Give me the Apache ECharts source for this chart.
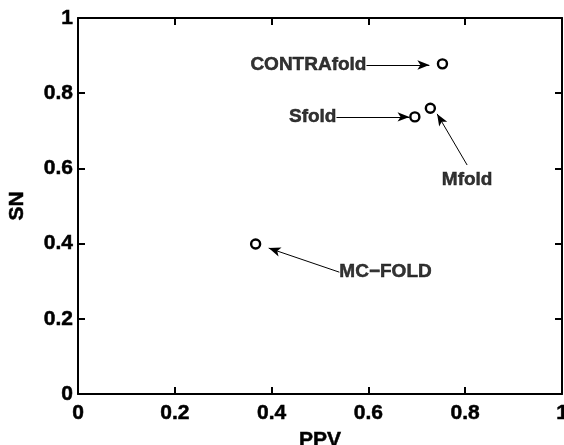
<!DOCTYPE html>
<html>
<head>
<meta charset="utf-8">
<script src="https://cdn.jsdelivr.net/npm/echarts@6/dist/echarts.min.js"></script>
<style>
  html, body { margin: 0; padding: 0; background: #fff; }
  #chart { width: 564px; height: 445px; }
</style>
</head>
<body>
<div id="chart"></div>
<script>
// methods and their (PPV, SN) values
var methods = ["CONTRAfold", "Sfold", "Mfold", "MC\u2212FOLD"];
var ppv = [0.753, 0.696, 0.728, 0.367];
var sn = [0.878, 0.737, 0.76, 0.399];

// annotation arrows: start (at the text) -> end (near the point), in data units
var arrowFrom = [[0.596, 0.875], [0.534, 0.737], [0.804, 0.609], [0.54, 0.324]];
var arrowTo = [[0.726, 0.875], [0.685, 0.737], [0.742, 0.745], [0.394, 0.388]];
var labelPos = ["left", "left", "bottom", "right"];

var ticks = [0, 0.2, 0.4, 0.6, 0.8, 1];

var font = "Liberation Sans, Arial, Helvetica, sans-serif";
// a thin stroke makes the bold text look as heavy as the original
var heavy = { textBorderColor: "#000", textBorderWidth: 0.5 };

var myChart = echarts.init(document.getElementById("chart"));

var points = methods.map(function (m, i) {
  return [ppv[i], sn[i]];
});

var arrows = methods.map(function (m, i) {
  return [
    { coord: arrowFrom[i], symbol: "none" },
    { coord: arrowTo[i], symbol: "arrow" }
  ];
});

var texts = methods.map(function (m, i) {
  return {
    value: arrowFrom[i],
    label: { position: labelPos[i], distance: labelPos[i] == "bottom" ? 5 : 0 }
  };
});

function axisBase(pos) {
  return {
    type: "value",
    position: pos,
    min: ticks[0],
    max: ticks[ticks.length - 1],
    interval: 0.2,
    splitLine: { show: false },
    axisLine: { show: true, onZero: false, lineStyle: { color: "#000", width: 2 } },
    axisTick: { show: true, inside: true, length: 7, lineStyle: { color: "#000", width: 2 } }
  };
}

function tickLabel(margin) {
  return Object.assign({
    color: "#000", fontWeight: "bold", fontSize: 21, fontFamily: font, margin: margin,
    formatter: function (v) { return String(Math.round(v * 10) / 10); }
  }, heavy);
}

var nameStyle = Object.assign({ color: "#000", fontWeight: "bold", fontSize: 21, fontFamily: font }, heavy);

var xMain = axisBase("bottom");
xMain.name = "PPV";
xMain.nameLocation = "middle";
xMain.nameGap = 32;
xMain.nameTextStyle = nameStyle;
xMain.axisLabel = tickLabel(9);
var xTop = axisBase("top");
xTop.axisLabel = { show: false };

var yMain = axisBase("left");
yMain.name = "SN";
yMain.nameLocation = "middle";
yMain.nameGap = 50;
yMain.nameTextStyle = nameStyle;
yMain.axisLabel = tickLabel(5);
var yRight = axisBase("right");
yRight.axisLabel = { show: false };

myChart.setOption({
  animation: false,
  backgroundColor: "#fff",
  grid: { left: 78, top: 18, right: 2, bottom: 51, containLabel: false, outerBoundsMode: "none" },
  xAxis: [xMain, xTop],
  yAxis: [yMain, yRight],
  series: [
    {
      name: "methods",
      type: "scatter",
      data: points,
      symbol: "circle",
      symbolSize: 9,
      itemStyle: { color: "#fff", borderColor: "#000", borderWidth: 2.4, opacity: 1 },
      z: 3,
      markLine: {
        silent: true,
        symbolSize: [7, 12],
        label: { show: false },
        lineStyle: { color: "#000", width: 1, type: "solid", opacity: 1 },
        emphasis: { disabled: true },
        data: arrows
      }
    },
    {
      name: "labels",
      type: "scatter",
      data: texts,
      symbolSize: 0,
      silent: true,
      label: Object.assign({
        show: true,
        color: "#000",
        fontWeight: "bold",
        fontSize: 19,
        fontFamily: font,
        formatter: function (p) { return methods[p.dataIndex]; }
      }, heavy)
    }
  ]
});
</script>
</body>
</html>
